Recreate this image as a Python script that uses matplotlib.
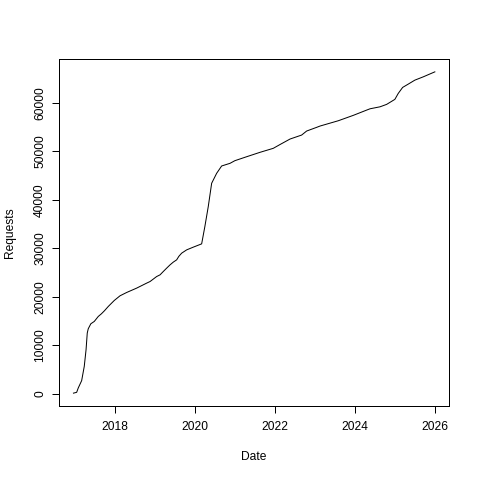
import matplotlib
matplotlib.use("Agg")
import matplotlib.pyplot as plt

# cumulative requests (decimal years)
years = [2016.955, 2017.035, 2017.075, 2017.16, 2017.225, 2017.27, 2017.30, 2017.325,
         2017.39, 2017.475, 2017.575, 2017.655, 2017.73, 2017.825, 2017.975, 2018.12,
         2018.285, 2018.535, 2018.785, 2018.87, 2019.035, 2019.12, 2019.20, 2019.285,
         2019.37, 2019.45, 2019.535, 2019.59, 2019.66, 2019.785, 2019.95, 2020.16,
         2020.24, 2020.325, 2020.41, 2020.535, 2020.66, 2020.87, 2020.99, 2021.285,
         2021.62, 2021.95, 2022.12, 2022.37, 2022.66, 2022.785, 2023.035, 2023.12,
         2023.575, 2023.95, 2024.285, 2024.37, 2024.62, 2024.785, 2024.99, 2025.075,
         2025.185, 2025.325, 2025.49, 2025.70, 2025.99]
requests = [100, 270, 1170, 2680, 5620, 9060, 12500, 13390,
            14420, 14890, 15920, 16480, 17100, 17980, 19220, 20190,
            20870, 21770, 22800, 23130, 24160, 24510, 25190, 25890,
            26570, 27130, 27600, 28330, 28980, 29660, 30220, 30900,
            34460, 38580, 43400, 45460, 46970, 47520, 48060, 48880,
            49790, 50610, 51400, 52530, 53350, 54180, 54940, 55210,
            56300, 57410, 58500, 58770, 59180, 59680, 60710, 61940,
            63180, 63860, 64680, 65360, 66390]

x_ticks = [2018, 2020, 2022, 2024, 2026]
y_ticks = [0, 10000, 20000, 30000, 40000, 50000, 60000]

plt.rcParams["font.family"] = ["Liberation Sans", "DejaVu Sans"]
plt.rcParams["font.size"] = 12

fig = plt.figure(figsize=(480 / 72, 480 / 72), dpi=72)
ax = fig.add_axes([59 / 480, 74 / 480, 390.3 / 480, 347 / 480])
ax.plot(years, requests, color="black", lw=1)

# R style padding: 4% on each side
x0, x1 = min(years), max(years)
y0, y1 = min(requests), max(requests)
ax.set_xlim(x0 - 0.04 * (x1 - x0), x1 + 0.04 * (x1 - x0))
ax.set_ylim(y0 - 0.04 * (y1 - y0), y1 + 0.04 * (y1 - y0))

ax.set_xticks(x_ticks)
ax.set_xticklabels([str(t) for t in x_ticks])
ax.set_yticks(y_ticks)
ax.set_yticklabels([str(t) for t in y_ticks], rotation=90, va="center")
ax.tick_params(direction="out", length=7, width=1, color="black", labelsize=12)
ax.tick_params(axis="x", pad=8)
ax.tick_params(axis="y", pad=6)
for sp in ax.spines.values():
    sp.set_linewidth(1)
    sp.set_color("black")

ax.set_xlabel("Date")
ax.set_ylabel("Requests")
ax.xaxis.set_label_coords(0.5, -0.146)
ax.yaxis.set_label_coords(-0.1255, 0.5)
ax.xaxis.label.set_va("center")
ax.yaxis.label.set_va("center")

fig.savefig("out.png", dpi=72)
